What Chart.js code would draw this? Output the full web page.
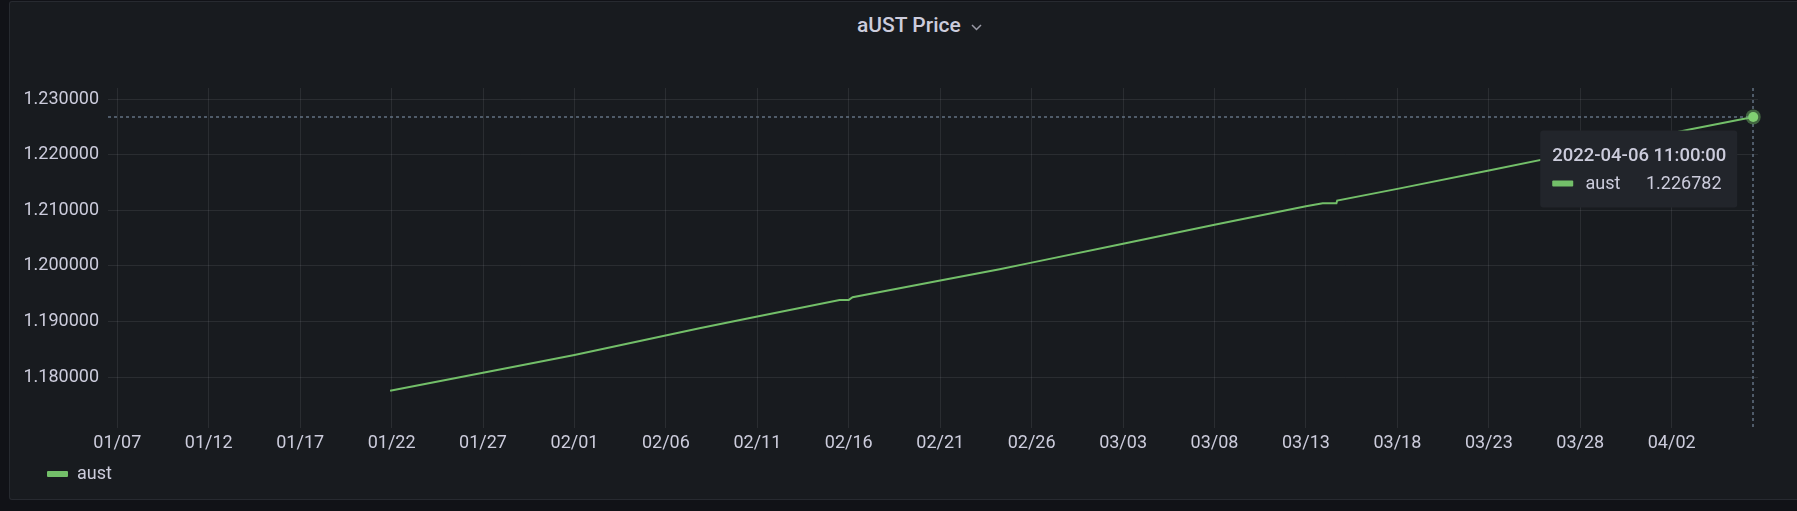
<!DOCTYPE html>
<html><head><meta charset="utf-8">
<script src="https://cdn.jsdelivr.net/npm/chart.js@4.4.1/dist/chart.umd.min.js"></script>
<style>
html,body{margin:0;padding:0;background:#111217;width:1797px;height:511px;overflow:hidden;font-family:Roboto,"Noto Sans",sans-serif;}
#panel{position:absolute;left:9px;top:1px;width:1800px;height:499px;background:#181b1f;border:1px solid rgba(204,204,220,0.09);border-radius:3px;box-sizing:border-box;}
#title{position:absolute;left:857px;top:12px;height:26px;line-height:26px;color:#ccccdc;font-size:21px;font-weight:500;white-space:nowrap;}
#chev{position:absolute;left:971px;top:24px;}
#wrap{position:absolute;left:0;top:0;width:1797px;height:511px;}
</style></head>
<body>
<div id="panel"></div>
<div id="title">aUST Price</div>
<svg id="chev" width="11" height="7" viewBox="0 0 11 7"><polyline points="1,1 5.5,5.5 10,1" fill="none" stroke="#9a9aa6" stroke-width="1.5"/></svg>
<div id="wrap"><canvas id="c" width="1797" height="511"></canvas></div>
<script>
// ---- data ----
const seriesName = 'aust';
const timestamps = [
  '2022-01-21T22:00:00Z','2022-01-27T00:00:00Z','2022-02-01T00:00:00Z','2022-02-07T20:00:00Z',
  '2022-02-11T00:00:00Z','2022-02-15T12:00:00Z','2022-02-16T00:00:00Z','2022-02-16T05:00:00Z',
  '2022-02-21T00:00:00Z','2022-02-24T06:00:00Z','2022-02-26T00:00:00Z','2022-03-03T00:00:00Z',
  '2022-03-08T00:00:00Z','2022-03-13T00:00:00Z','2022-03-13T22:00:00Z','2022-03-14T16:00:00Z',
  '2022-03-14T17:00:00Z','2022-03-18T00:00:00Z','2022-03-23T00:00:00Z','2022-03-28T00:00:00Z',
  '2022-04-02T00:00:00Z','2022-04-03T01:00:00Z','2022-04-06T11:00:00Z'
];
const prices = [
  1.17759,1.18080,1.18400,1.18881,
  1.19090,1.19390,1.19390,1.19438,
  1.19737,1.19942,1.20060,1.20400,
  1.20740,1.21072,1.21126,1.21126,
  1.21175,1.21385,1.21714,1.22050,
  1.22385,1.22455,1.226782
];
const yTickValues = [1.18,1.19,1.20,1.21,1.22,1.23];
const xTickDates = ['2022-01-07','2022-01-12','2022-01-17','2022-01-22','2022-01-27','2022-02-01','2022-02-06',
  '2022-02-11','2022-02-16','2022-02-21','2022-02-26','2022-03-03','2022-03-08','2022-03-13','2022-03-18',
  '2022-03-23','2022-03-28','2022-04-02'];
const xTickLabels = ['01/07','01/12','01/17','01/22','01/27','02/01','02/06','02/11','02/16','02/21','02/26',
  '03/03','03/08','03/13','03/18','03/23','03/28','04/02'];
const hoverLabel = '2022-04-06 11:00:00';
const hoverValueText = '1.226782';
const xRange = ['2022-01-06T11:48:00Z','2022-04-06T17:16:00Z'];
const yRange = [1.17088, 1.23198];

// ---- chart ----
const GREEN = '#73bf69';
const TEXT = '#ccccdc';
const FONT = 'Roboto';
Chart.defaults.font.family = FONT;
Chart.defaults.font.size = 18;
Chart.defaults.color = TEXT;

const hoverPlugin = {
  id: 'hoverMark',
  afterDatasetsDraw(chart) {
    const {ctx, chartArea: a, scales: {x, y}} = chart;
    const i = prices.length - 1;
    const px = x.getPixelForValue(Date.parse(timestamps[i]));
    const py = y.getPixelForValue(prices[i]);
    ctx.save();
    ctx.strokeStyle = 'rgba(112,128,148,0.85)';
    ctx.lineWidth = 1.5;
    ctx.setLineDash([3, 3]);
    ctx.beginPath(); ctx.moveTo(Math.round(px), a.top); ctx.lineTo(Math.round(px), a.bottom); ctx.stroke();
    ctx.beginPath(); ctx.moveTo(a.left, Math.round(py)); ctx.lineTo(px, Math.round(py)); ctx.stroke();
    ctx.setLineDash([]);
    ctx.fillStyle = 'rgba(115,191,105,0.45)';
    ctx.beginPath(); ctx.arc(px, py, 7.5, 0, Math.PI * 2); ctx.fill();
    ctx.fillStyle = '#80cf72';
    ctx.beginPath(); ctx.arc(px, py, 5, 0, Math.PI * 2); ctx.fill();
    // tooltip
    const bx = px - 213, by = py + 13.6, bw = 197, bh = 77;
    ctx.fillStyle = '#22252b';
    ctx.beginPath(); ctx.roundRect(bx, by, bw, bh, 3); ctx.fill();
    ctx.fillStyle = TEXT;
    ctx.textBaseline = 'alphabetic';
    ctx.textAlign = 'left';
    ctx.font = '500 18.5px ' + FONT;
    ctx.fillText(hoverLabel, bx + 12, by + 30.7);
    ctx.fillStyle = GREEN;
    ctx.beginPath(); ctx.roundRect(bx + 12, by + 50, 21, 6, 1); ctx.fill();
    ctx.fillStyle = TEXT;
    ctx.font = '400 18px ' + FONT;
    ctx.fillText(seriesName, bx + 45.3, by + 58);
    ctx.textAlign = 'right';
    ctx.fillText(hoverValueText, bx + 181.3, by + 58);
    ctx.restore();
  }
};

const legendShift = {
  id: 'legendShift',
  afterLayout(chart) {
    chart.legend.left = 37;
    chart.legend.top = 455;
  }
};

new Chart(document.getElementById('c'), {
  type: 'line',
  data: {
    datasets: [{
      label: seriesName,
      data: timestamps.map((t, k) => ({x: Date.parse(t), y: prices[k]})),
      borderColor: GREEN,
      backgroundColor: GREEN,
      borderWidth: 2,
      pointRadius: 0,
      tension: 0,
      fill: false
    }]
  },
  options: {
    responsive: false,
    devicePixelRatio: 1,
    animation: false,
    events: [],
    layout: {padding: {left: 0, right: 39, top: 88, bottom: 15}},
    plugins: {
      title: {display: false},
      tooltip: {enabled: false},
      legend: {
        display: true,
        position: 'bottom',
        align: 'start',
        labels: {
          padding: 10,
          boxWidth: 21,
          boxHeight: 6,
          color: TEXT,
          font: {size: 18},
          generateLabels: (chart) => [{
            text: seriesName, fillStyle: GREEN, strokeStyle: GREEN, lineWidth: 0,
            borderRadius: 1, datasetIndex: 0, hidden: false, fontColor: TEXT
          }]
        }
      }
    },
    scales: {
      x: {
        type: 'linear',
        min: Date.parse(xRange[0]),
        max: Date.parse(xRange[1]),
        afterBuildTicks: (s) => { s.ticks = xTickDates.map(d => ({value: Date.parse(d + 'T00:00:00Z')})); },
        afterFit: (s) => { s.height = 30; },
        ticks: {
          autoSkip: false, maxRotation: 0, padding: 4.5, color: TEXT,
          callback: (v, idx) => xTickLabels[idx]
        },
        grid: {color: 'rgba(204,204,220,0.1)', drawTicks: false, lineWidth: 1},
        border: {display: false}
      },
      y: {
        type: 'linear',
        min: yRange[0],
        max: yRange[1],
        afterBuildTicks: (s) => { s.ticks = yTickValues.map(v => ({value: v})); },
        afterFit: (s) => { s.width = 108; },
        ticks: {padding: 9, color: TEXT, callback: (v) => v.toFixed(6)},
        grid: {color: 'rgba(204,204,220,0.1)', drawTicks: false, lineWidth: 1},
        border: {display: false}
      }
    }
  },
  plugins: [hoverPlugin, legendShift]
});
</script>
</body></html>
